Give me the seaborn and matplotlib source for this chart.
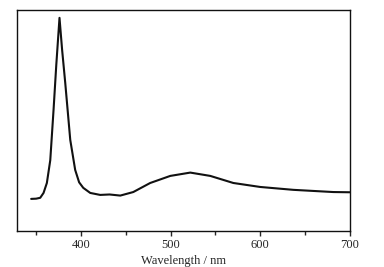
import numpy as np
import pandas as pd
import seaborn as sns
import matplotlib.pyplot as plt
from matplotlib.ticker import MultipleLocator

# emission spectrum (arbitrary intensity units)
wavelength = [344.5, 350, 354.6, 358.3, 362, 365.8, 369.5, 372.5, 376.1, 379,
              382.5, 388.1, 393.6, 398, 402.6, 410.4, 421.5, 432, 443.9, 458.4,
              477.3, 499.7, 522, 544.3, 570, 600, 636.9, 681.6, 700]
intensity = [0.145, 0.146, 0.150, 0.172, 0.217, 0.32, 0.55, 0.75, 0.964, 0.82,
             0.67, 0.412, 0.276, 0.22, 0.195, 0.172, 0.163, 0.165, 0.160, 0.176,
             0.217, 0.249, 0.264, 0.249, 0.217, 0.199, 0.186, 0.176, 0.175]
major_ticks = [400, 500, 600, 700]

df = pd.DataFrame({"wl": wavelength, "I": intensity})

sns.set_style("ticks")
plt.rcParams['font.family'] = ['Liberation Serif', 'DejaVu Serif']
plt.rcParams['font.size'] = 9

fig = plt.figure(figsize=(3.84, 2.67), dpi=100)
ax = fig.add_axes([0.045, 0.135, 0.866, 0.828])
sns.lineplot(data=df, x="wl", y="I", ax=ax, color="#111111", linewidth=1.5)

ax.set_xlim(329, 700)
ax.set_ylim(0, 1)
ax.set_xticks(major_ticks)
ax.xaxis.set_minor_locator(MultipleLocator(50))
ax.tick_params(axis="x", which="major", direction="out", length=3.5, width=1, pad=2)
ax.tick_params(axis="x", which="minor", direction="out", length=3, width=1)
ax.set_yticks([])
ax.set_xlabel("Wavelength / nm", labelpad=3)
ax.set_ylabel("")
for s in ax.spines.values():
    s.set_linewidth(1)
    s.set_color("#111111")

fig.savefig("out.png", dpi=100)
